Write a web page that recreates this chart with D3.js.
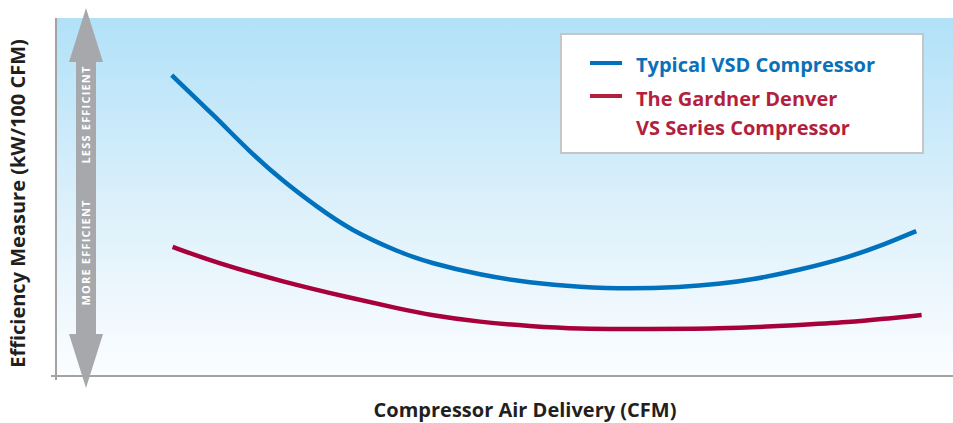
<!DOCTYPE html>
<html><head><meta charset="utf-8">
<script src="https://cdn.jsdelivr.net/npm/d3@7"></script>
<style>
html,body{margin:0;padding:0;background:#fff;}
svg{display:block;font-family:"Open Sans",Lato,sans-serif;}
</style></head>
<body>
<svg id="chart" width="953" height="423"></svg>
<script>
// Air delivery (% of range across the axis)
const deliveryTypical = [12.9,17.9,21.6,25.3,29.1,32.8,38.4,41.7,47.3,52.8,58.4,64.0,69.6,74.0,77.4,82.9,88.5,92.2,95.9];
// Efficiency measure (relative kW/100 CFM)
const effTypical = [84.0,72.0,62.5,54.3,47.1,40.6,34.2,31.4,28.0,25.8,24.6,24.1,24.6,25.5,26.6,29.4,33.1,36.4,40.3];
const deliveryGD = [13.0,17.9,25.3,32.8,38.4,41.7,47.3,52.8,58.4,64.0,74.0,82.9,88.5,92.2,96.5];
const effGD = [35.9,31.4,26.1,21.6,18.5,16.8,14.8,13.7,12.9,12.9,12.9,14.0,14.8,15.7,16.8];
const seriesNames = ["Typical VSD Compressor", ["The Gardner Denver","VS Series Compressor"]];
const arrowLabels = ["LESS EFFICIENT","MORE EFFICIENT"];
const xTitle = "Compressor Air Delivery (CFM)";
const yTitle = "Efficiency Measure (kW/100 CFM)";

const svg = d3.select("#chart");
const m = {left:56, right:953, top:18, bottom:375};
const x = d3.scaleLinear().domain([0,100]).range([m.left, m.right]);
const y = d3.scaleLinear().domain([0,100]).range([m.bottom, m.top]);

const defs = svg.append("defs");
const g = defs.append("linearGradient").attr("id","bg").attr("x1",0).attr("y1",0).attr("x2",0).attr("y2",1);
g.append("stop").attr("offset","0%").attr("stop-color","#b1e1f8");
g.append("stop").attr("offset","55%").attr("stop-color","#def1fb");
g.append("stop").attr("offset","100%").attr("stop-color","#fbfdff");

svg.append("rect").attr("x",m.left).attr("y",m.top).attr("width",m.right-m.left).attr("height",m.bottom-m.top).attr("fill","url(#bg)");

// axes
const xAxis = svg.append("g").attr("transform",`translate(0,${m.bottom+1})`)
  .call(d3.axisBottom(x).tickValues([]).tickSizeOuter(0));
xAxis.select(".domain").attr("stroke","#a3a3a3").attr("stroke-width",2).attr("d",`M${m.left-5},0H${m.right}`);
const yAxis = svg.append("g").attr("transform",`translate(${m.left},0)`)
  .call(d3.axisLeft(y).tickValues([]).tickSizeOuter(0));
yAxis.select(".domain").attr("stroke","#a3a3a3").attr("stroke-width",2).attr("d",`M0,${m.top}V${m.bottom+5}`);

// double arrow
const ax = 86, aTop = 8, aBot = 388, headH = 54, headW = 17, shaftW = 10;
svg.append("path").attr("fill","#a7a8ab").attr("d",
  `M${ax},${aTop} L${ax+headW},${aTop+headH} L${ax+shaftW},${aTop+headH} L${ax+shaftW},${aBot-headH} L${ax+headW},${aBot-headH} L${ax},${aBot} L${ax-headW},${aBot-headH} L${ax-shaftW},${aBot-headH} L${ax-shaftW},${aTop+headH} L${ax-headW},${aTop+headH} Z`);
svg.append("text").attr("transform",`translate(${ax+4},114.5) rotate(-90)`).attr("text-anchor","middle")
  .attr("fill","#fff").attr("font-size",11).attr("font-weight",700).attr("letter-spacing",1.2).text(arrowLabels[0]);
svg.append("text").attr("transform",`translate(${ax+4},252.5) rotate(-90)`).attr("text-anchor","middle")
  .attr("fill","#fff").attr("font-size",11).attr("font-weight",700).attr("letter-spacing",1.2).text(arrowLabels[1]);

// lines
const line = d3.line().x(d=>x(d[0])).y(d=>y(d[1])).curve(d3.curveBasis);
svg.append("path").datum(d3.zip(deliveryTypical,effTypical)).attr("d",line)
  .attr("fill","none").attr("stroke","#0071bc").attr("stroke-width",4.5);
svg.append("path").datum(d3.zip(deliveryGD,effGD)).attr("d",line)
  .attr("fill","none").attr("stroke","#a8003a").attr("stroke-width",4.5);

// legend
svg.append("rect").attr("x",561).attr("y",34).attr("width",362).attr("height",119)
  .attr("fill","#fff").attr("stroke","#c4c6c8").attr("stroke-width",2);
svg.append("line").attr("x1",590).attr("x2",622).attr("y1",63).attr("y2",63).attr("stroke","#0071bc").attr("stroke-width",4);
svg.append("line").attr("x1",590).attr("x2",622).attr("y1",96).attr("y2",96).attr("stroke","#b31f3c").attr("stroke-width",4);
const lt = (yy, col, t) => svg.append("text").attr("x",636).attr("y",yy).attr("fill",col)
  .attr("font-size",20).attr("font-weight",700).text(t);
lt(72,"#0a70b8",seriesNames[0]);
lt(106,"#b31f3c",seriesNames[1][0]);
lt(135,"#b31f3c",seriesNames[1][1]);

// titles
svg.append("text").attr("x",525).attr("y",417).attr("text-anchor","middle").attr("fill","#231f20")
  .attr("font-size",20).attr("font-weight",700).text(xTitle);
svg.append("text").attr("transform","translate(25,203.5) rotate(-90)").attr("text-anchor","middle").attr("fill","#231f20")
  .attr("font-size",20).attr("font-weight",700).text(yTitle);
</script>
</body></html>
